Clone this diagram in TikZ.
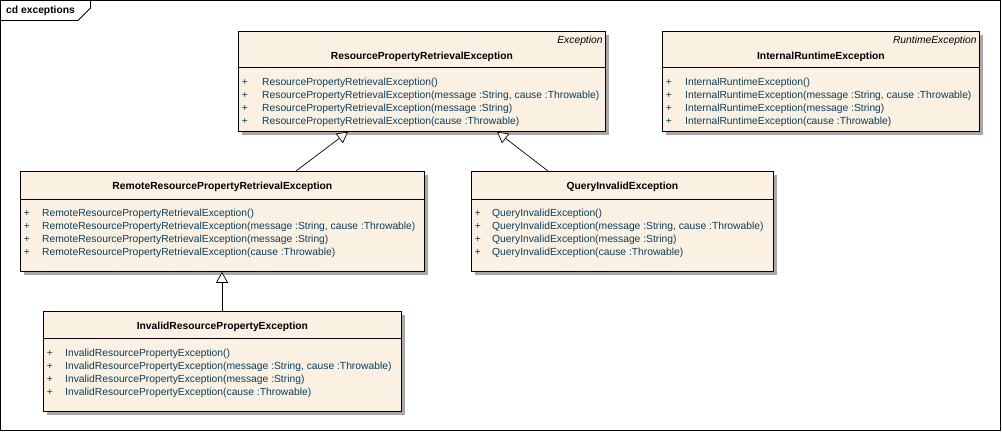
\documentclass[tikz,border=0pt]{standalone}
\usepackage{fontspec}
\setmainfont{Liberation Sans}
\usetikzlibrary{calc,arrows.meta,shadows}

\definecolor{classfill}{RGB}{251,241,226}
\definecolor{optext}{RGB}{10,62,92}
\definecolor{shadowgray}{RGB}{168,168,168}

\tikzset{
  x=1pt, y=-1pt,
  umlfont/.style={font=\fontsize{10.3}{12}\selectfont},
  classbox/.style={draw=black, line width=0.8pt, fill=classfill, anchor=north west,
    inner sep=0pt,
    drop shadow={shadow xshift=4pt, shadow yshift=-4pt, fill=shadowgray, opacity=1}},
  classname/.style={font=\fontsize{10.3}{12}\selectfont\bfseries, inner sep=0pt, text=black},
  stereo/.style={font=\fontsize{10.3}{12}\selectfont\itshape, inner sep=0pt, anchor=east, text=black},
  optxt/.style={umlfont, inner sep=0pt, anchor=west, text=optext},
  plus/.style={umlfont, inner sep=0pt, text=optext},
  separator/.style={line width=0.8pt, draw=black},
  gen/.style={line width=0.7pt, draw=black,
    -{Triangle[open, length=11pt, width=12pt, fill=white]}},
}

% #1 class node, #2 x offset of the texts, #3 y offset of first operation, #4 operations
\newcommand\classops[4]{%
  \foreach \t [count=\i] in {#4} {
    \node[plus] (#1-plus\i) at ($(#1.north west)+(7,#3+13*\i-13)$) {+};
    \node[optxt] (#1-op\i) at ($(#1.north west)+(#2,#3+13*\i-13)$) {\t};
  }%
}

\begin{document}
\begin{tikzpicture}
  \useasboundingbox (0,0) rectangle (1002,432);

  % diagram frame with its name tab
  \draw[line width=0.8pt] (0.5,0.5) rectangle (1000.5,430.5);
  \draw[line width=0.8pt] (0.5,20.5) -- (78,20.5) -- (90.5,8) -- (90.5,0.5);
  \node[classname, anchor=west] (title) at (6,10.5) {cd exceptions};

  % classes
  \node[classbox, minimum width=367pt, minimum height=100pt] (rpre) at (238,31) {};
  \node[classbox, minimum width=317pt, minimum height=100pt] (irt) at (662,31) {};
  \node[classbox, minimum width=404pt, minimum height=100pt] (remote) at (20,171) {};
  \node[classbox, minimum width=302pt, minimum height=100pt] (query) at (471,171) {};
  \node[classbox, minimum width=358pt, minimum height=100pt] (invalid) at (43,311) {};

  % ResourcePropertyRetrievalException
  \draw[separator] ($(rpre.north west)+(0,36)$) -- ($(rpre.north east)+(0,36)$);
  \node[stereo] (rpre-st) at ($(rpre.north east)+(-3,10)$) {Exception};
  \node[classname] (rpre-name) at ($(rpre.north)+(0,25.5)$) {ResourcePropertyRetrievalException};
  \classops{rpre}{24}{52}{{ResourcePropertyRetrievalException()},
    {ResourcePropertyRetrievalException(message :String, cause :Throwable)},
    {ResourcePropertyRetrievalException(message :String)},
    {ResourcePropertyRetrievalException(cause :Throwable)}}

  % InternalRuntimeException
  \draw[separator] ($(irt.north west)+(0,36)$) -- ($(irt.north east)+(0,36)$);
  \node[stereo] (irt-st) at ($(irt.north east)+(-3,10)$) {RuntimeException};
  \node[classname] (irt-name) at ($(irt.north)+(0,25.5)$) {InternalRuntimeException};
  \classops{irt}{23}{52}{{InternalRuntimeException()},
    {InternalRuntimeException(message :String, cause :Throwable)},
    {InternalRuntimeException(message :String)},
    {InternalRuntimeException(cause :Throwable)}}

  % RemoteResourcePropertyRetrievalException
  \draw[separator] ($(remote.north west)+(0,28)$) -- ($(remote.north east)+(0,28)$);
  \node[classname] (remote-name) at ($(remote.north)+(0,16)$) {RemoteResourcePropertyRetrievalException};
  \classops{remote}{22}{43}{{RemoteResourcePropertyRetrievalException()},
    {RemoteResourcePropertyRetrievalException(message :String, cause :Throwable)},
    {RemoteResourcePropertyRetrievalException(message :String)},
    {RemoteResourcePropertyRetrievalException(cause :Throwable)}}

  % QueryInvalidException
  \draw[separator] ($(query.north west)+(0,28)$) -- ($(query.north east)+(0,28)$);
  \node[classname] (query-name) at ($(query.north)+(0,16)$) {QueryInvalidException};
  \classops{query}{21}{43}{{QueryInvalidException()},
    {QueryInvalidException(message :String, cause :Throwable)},
    {QueryInvalidException(message :String)},
    {QueryInvalidException(cause :Throwable)}}

  % InvalidResourcePropertyException
  \draw[separator] ($(invalid.north west)+(0,27)$) -- ($(invalid.north east)+(0,27)$);
  \node[classname] (invalid-name) at ($(invalid.north)+(0,15.5)$) {InvalidResourcePropertyException};
  \classops{invalid}{22}{43}{{InvalidResourcePropertyException()},
    {InvalidResourcePropertyException(message :String, cause :Throwable)},
    {InvalidResourcePropertyException(message :String)},
    {InvalidResourcePropertyException(cause :Throwable)}}

  % generalizations
  \draw[gen] ($(remote.north west)+(276,0)$) -- ($(rpre.south west)+(110,0)$);
  \draw[gen] ($(query.north west)+(77,0)$) -- ($(rpre.south west)+(259,0)$);
  \draw[gen] ($(invalid.north west)+(179,0)$) -- ($(remote.south west)+(202,0)$);
\end{tikzpicture}
\end{document}
